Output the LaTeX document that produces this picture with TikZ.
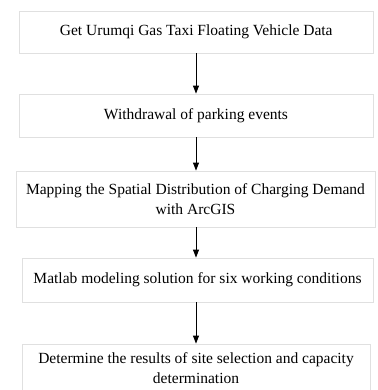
\documentclass[tikz,border=0pt]{standalone}
\usepackage{fontspec}
\setmainfont{Liberation Serif}
\usetikzlibrary{arrows.meta}
\begin{document}
\begin{tikzpicture}[x=1pt,y=-1pt,
  stepbox/.style={draw=black!12, line width=0.8pt, inner sep=0pt, align=center,
    font=\fontsize{15.5}{19.5}\selectfont},
  flow/.style={-{Triangle[length=8pt,width=6pt]}, line width=1pt, black}]
\clip (0,0) rectangle (377,390);
\node[stepbox, minimum width=353.5pt, minimum height=41.5pt] (b1) at (196.25,32.25) {Get Urumqi Gas Taxi Floating Vehicle Data};
\node[stepbox, minimum width=354pt, minimum height=43pt] (b2) at (196,115.5) {Withdrawal of parking events};
\node[stepbox, minimum width=359pt, minimum height=56pt] (b3) at (195.5,199) {Mapping the Spatial Distribution of Charging Demand\\with ArcGIS};
\node[stepbox, minimum width=351pt, minimum height=44pt] (b4) at (197.5,280) {Matlab modeling solution for six working conditions};
\node[stepbox, minimum width=348pt, minimum height=48pt] (b5) at (196,368) {Determine the results of site selection and capacity\\determination};
\draw[flow] (b1.south -| 196,0) -- (b2.north -| 196,0);
\draw[flow] (b2.south -| 196,0) -- (b3.north -| 196,0);
\draw[flow] (b3.south -| 196,0) -- (b4.north -| 196,0);
\draw[flow] (b4.south -| 196,0) -- (b5.north -| 196,0);
\end{tikzpicture}
\end{document}
